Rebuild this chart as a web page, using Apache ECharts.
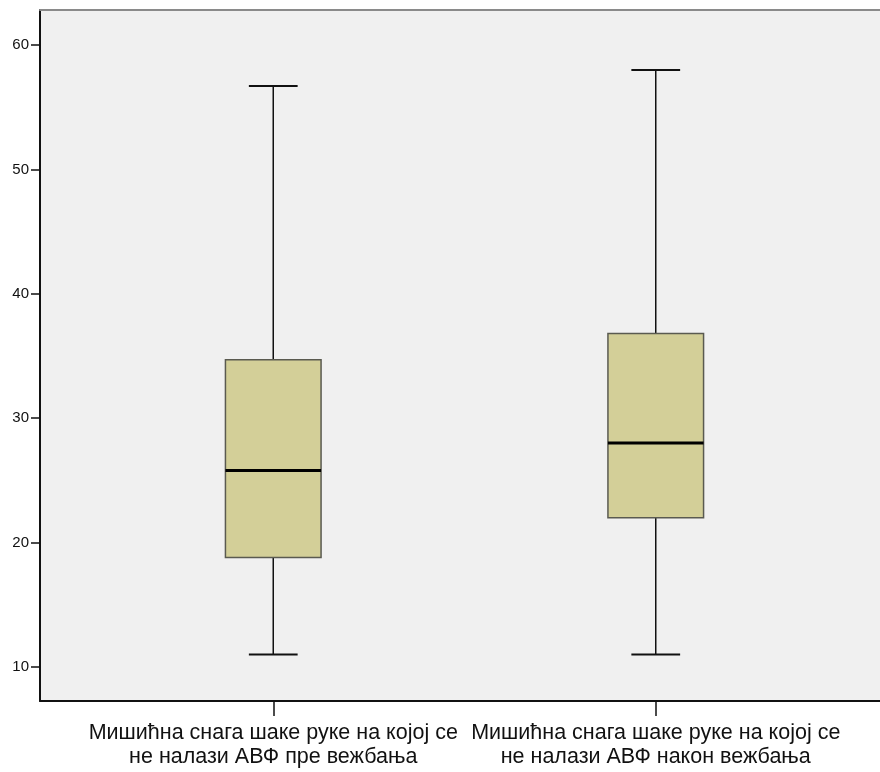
<!DOCTYPE html>
<html>
<head>
<meta charset="utf-8">
<script src="https://cdn.jsdelivr.net/npm/echarts@6/dist/echarts.min.js"></script>
<style>
  html, body { margin: 0; padding: 0; background: #fff; }
  #chart { width: 880px; height: 772px; }
</style>
</head>
<body>
<div id="chart"></div>
<script>
const categories = [
  'Мишићна снага шаке руке на којој се\nне налази АВФ пре вежбања',
  'Мишићна снага шаке руке на којој се\nне налази АВФ након вежбања'
]
const mins = [11.0, 11.0]
const q1s = [18.8, 22.0]
const medians = [25.8, 28.0]
const q3s = [34.7, 36.8]
const maxs = [56.7, 58.0]
const yTicks = [10, 20, 30, 40, 50, 60]

const yMin = 7.26
const yMax = 62.82

const chart = echarts.init(document.getElementById('chart'))

const boxData = categories.map((c, i) => [i, mins[i], q1s[i], medians[i], q3s[i], maxs[i]])

const option = {
  animation: false,
  grid: [
    { // background frame
      left: 40, right: 0, top: 10, bottom: 71,
      show: true, backgroundColor: '#f0f0f0', borderWidth: 0
    },
    { // boxes
      left: 82, right: 33, top: 10, bottom: 71
    }
  ],
  xAxis: [
    {
      gridIndex: 0, type: 'value', min: 0, max: 1, position: 'bottom',
      axisLine: { show: true, lineStyle: { color: '#111', width: 2 } },
      axisTick: { show: false }, axisLabel: { show: false }, splitLine: { show: false }
    },
    {
      gridIndex: 0, type: 'value', min: 0, max: 1, position: 'top',
      axisLine: { show: true, lineStyle: { color: '#8a8a8a', width: 2 } },
      axisTick: { show: false }, axisLabel: { show: false }, splitLine: { show: false }
    },
    {
      gridIndex: 1, type: 'category', data: categories, boundaryGap: true,
      axisLine: { show: false },
      axisTick: { show: true, alignWithLabel: true, length: 15, lineStyle: { color: '#111', width: 1.5 } },
      axisLabel: {
        interval: 0, margin: 20, color: '#111', fontSize: 21.5, lineHeight: 24,
        fontFamily: 'Liberation Sans, Arial, sans-serif', align: 'center'
      },
      splitLine: { show: false }
    }
  ],
  yAxis: [
    {
      gridIndex: 0, type: 'value', min: yMin, max: yMax,
      axisLine: { show: true, lineStyle: { color: '#111', width: 2 } },
      axisTick: { show: true, length: 9, customValues: yTicks, lineStyle: { color: '#111', width: 1.5 } },
      axisLabel: {
        customValues: yTicks, margin: 11, color: '#111', fontSize: 15,
        fontFamily: 'Liberation Sans, Arial, sans-serif'
      },
      splitLine: { show: false }
    },
    {
      gridIndex: 1, type: 'value', min: yMin, max: yMax, show: false
    }
  ],
  series: [{
    type: 'custom',
    xAxisIndex: 2,
    yAxisIndex: 1,
    data: boxData,
    encode: { x: 0, y: [1, 2, 3, 4, 5] },
    renderItem: function (params, api) {
      const idx = api.value(0)
      const band = api.size([1, 0])[0]
      const boxW = band * 0.25
      const capW = boxW * 0.51
      const pMin = api.coord([idx, api.value(1)])
      const pQ1 = api.coord([idx, api.value(2)])
      const pMed = api.coord([idx, api.value(3)])
      const pQ3 = api.coord([idx, api.value(4)])
      const pMax = api.coord([idx, api.value(5)])
      const cx = pMed[0]
      const lineStyle = { stroke: '#111', lineWidth: 1.5 }
      return {
        type: 'group',
        children: [
          { type: 'line', shape: { x1: cx, y1: pMax[1], x2: cx, y2: pQ3[1] }, style: lineStyle },
          { type: 'line', shape: { x1: cx, y1: pQ1[1], x2: cx, y2: pMin[1] }, style: lineStyle },
          { type: 'line', shape: { x1: cx - capW / 2, y1: pMax[1], x2: cx + capW / 2, y2: pMax[1] }, style: { stroke: '#111', lineWidth: 2 } },
          { type: 'line', shape: { x1: cx - capW / 2, y1: pMin[1], x2: cx + capW / 2, y2: pMin[1] }, style: { stroke: '#111', lineWidth: 2 } },
          {
            type: 'rect',
            shape: { x: cx - boxW / 2, y: pQ3[1], width: boxW, height: pQ1[1] - pQ3[1] },
            style: { fill: '#d3cf98', stroke: '#5a5a50', lineWidth: 1.5 }
          },
          { type: 'line', shape: { x1: cx - boxW / 2, y1: pMed[1], x2: cx + boxW / 2, y2: pMed[1] }, style: { stroke: '#000', lineWidth: 3 } }
        ]
      }
    }
  }]
}

option && chart.setOption(option)
</script>
</body>
</html>
